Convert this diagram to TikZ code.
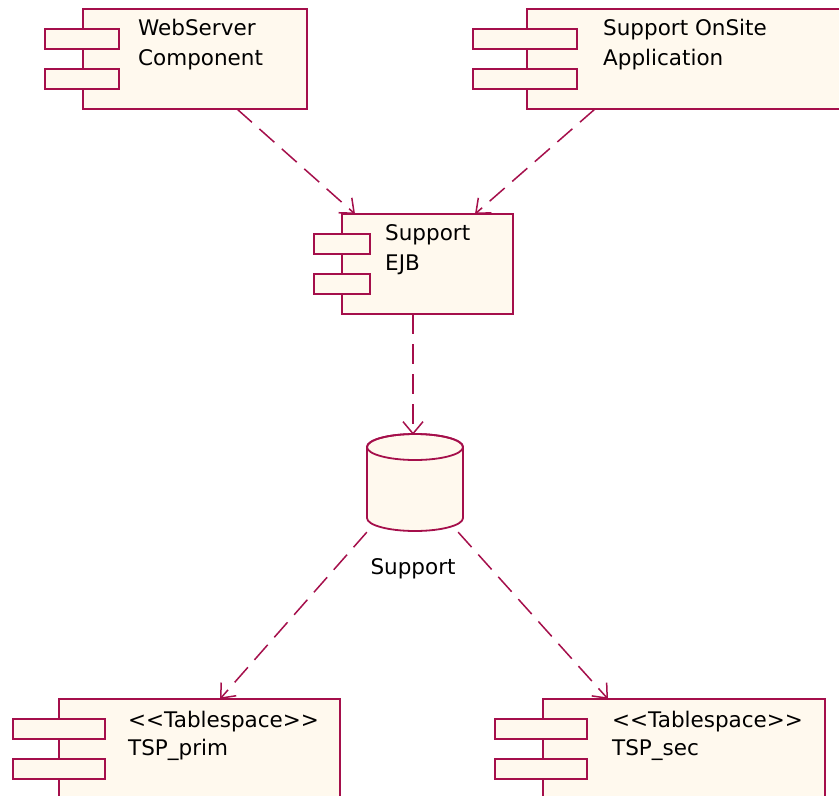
\documentclass[tikz,border=0pt]{standalone}
\usepackage{fontspec}
\setmainfont{DejaVu Sans}[Ligatures=TeXOff]
\usetikzlibrary{arrows.meta,calc}
\definecolor{umlline}{RGB}{165,15,75}
\definecolor{umlfill}{RGB}{255,249,238}
\tikzset{
  box/.style={draw=umlline,fill=umlfill,line width=1.8pt,rectangle,inner sep=0pt,outer sep=0pt},
  port/.style={box,minimum height=20pt},
  lbl/.style={anchor=base west,inner sep=0pt,font=\fontsize{21.5}{26}\selectfont,text=black},
  dep/.style={draw=umlline,line width=1.5pt,dash pattern=on 20pt off 10pt,
    -{Straight Barb[length=12pt,width=20pt,line width=1.5pt]}}
}
\begin{document}
\begin{tikzpicture}[x=1pt,y=-1pt]
\useasboundingbox (0,0) rectangle (839,796);
\clip (0,0) rectangle (839,796);
\fill[white] (0,0) rectangle (839,796);
% WebServer Component
\node[box,minimum width=224pt,minimum height=100pt] (web) at (195,59) {};
\node[port,minimum width=74pt] (webp1) at (82,39) {};
\node[port,minimum width=74pt] (webp2) at (82,79) {};
\node[lbl] (webt1) at (138,35) {WebServer};
\node[lbl] (webt2) at (138,65) {Component};
% Support OnSite Application
\node[box,minimum width=318pt,minimum height=100pt] (app) at (686,59) {};
\node[port,minimum width=104pt] (appp1) at (525,39) {};
\node[port,minimum width=104pt] (appp2) at (525,79) {};
\node[lbl] (appt1) at (603,35) {Support OnSite};
\node[lbl] (appt2) at (603,65) {Application};
% Support EJB
\node[box,minimum width=171pt,minimum height=100pt] (ejb) at (427.5,264) {};
\node[port,minimum width=56pt] (ejbp1) at (342,244) {};
\node[port,minimum width=56pt] (ejbp2) at (342,284) {};
\node[lbl] (ejbt1) at (385,240) {Support};
\node[lbl] (ejbt2) at (385,270) {EJB};
% Database cylinder
\node[inner sep=0pt,minimum width=96pt,minimum height=97pt] (db) at (415,482.5) {};
\filldraw[draw=umlline,fill=umlfill,line width=1.8pt]
  (367,447) -- (367,518) arc[start angle=180,end angle=0,x radius=48,y radius=13]
  -- (463,447) arc[start angle=0,end angle=-180,x radius=48,y radius=13] -- cycle;
\draw[umlline,line width=1.8pt] (415,447) ellipse[x radius=48,y radius=13];
\node[lbl,anchor=base] (dbt) at (413,574) {Support};
% TSP_prim
\node[box,minimum width=281pt,minimum height=120pt] (tsp1) at (199.5,759) {};
\node[port,minimum width=92pt] (tsp1p1) at (59,729) {};
\node[port,minimum width=92pt] (tsp1p2) at (59,769) {};
\node[lbl] (tsp1t1) at (128,727) {<<Tablespace>>};
\node[lbl] (tsp1t2) at (128,755) {TSP\_prim};
% TSP_sec
\node[box,minimum width=282pt,minimum height=120pt] (tsp2) at (684,759) {};
\node[port,minimum width=92pt] (tsp2p1) at (541,729) {};
\node[port,minimum width=92pt] (tsp2p2) at (541,769) {};
\node[lbl] (tsp2t1) at (612,727) {<<Tablespace>>};
\node[lbl] (tsp2t2) at (612,755) {TSP\_sec};
% Dependencies
\draw[dep] ([xshift=42pt]web.south) -- ([xshift=-72.5pt]ejb.north);
\draw[dep] ([xshift=-91pt]app.south) -- ([xshift=47.5pt]ejb.north);
\draw[dep] ([xshift=-14.5pt]ejb.south) -- ([xshift=-2pt,yshift=-1pt]db.north);
\draw[dep] ([yshift=-1pt]db.south west) -- ([xshift=20.5pt]tsp1.north);
\draw[dep] ([xshift=-5pt,yshift=-1pt]db.south east) -- ([xshift=-76pt]tsp2.north);
\end{tikzpicture}
\end{document}
